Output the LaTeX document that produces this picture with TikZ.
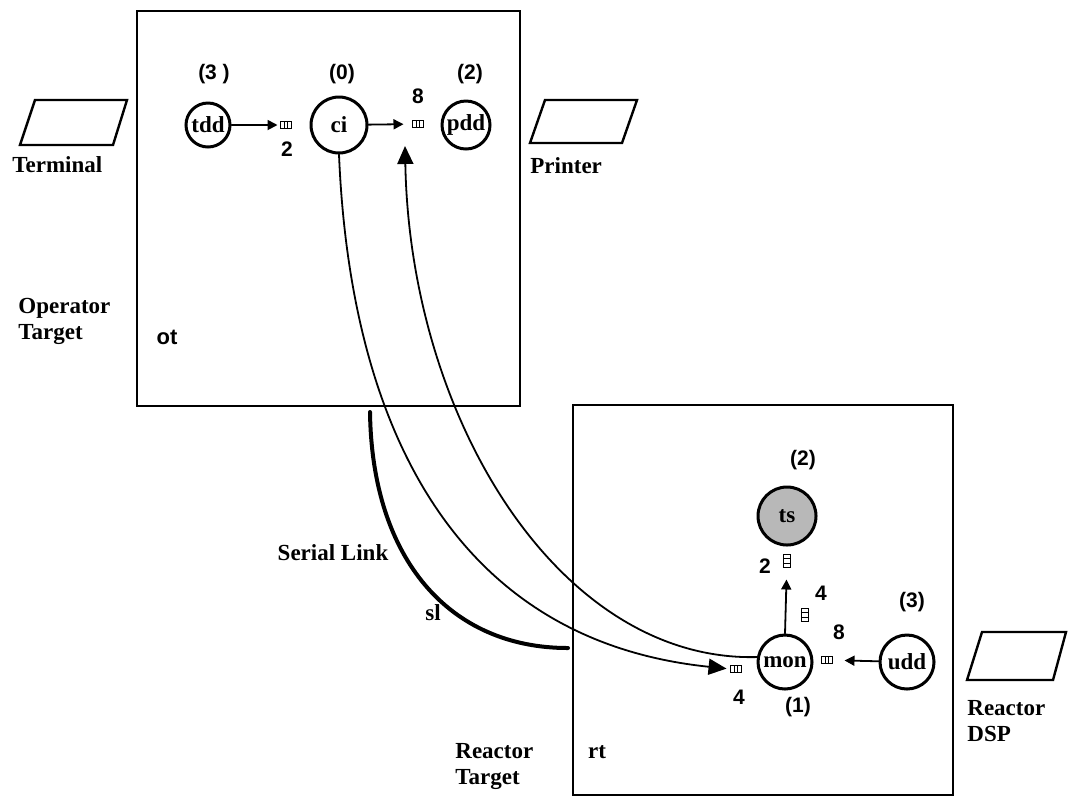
\documentclass[tikz,border=0pt]{standalone}
\usepackage{fontspec}
\setmainfont{Liberation Serif}
\setsansfont{Liberation Sans}
\usetikzlibrary{arrows.meta}

\begin{document}
\begin{tikzpicture}[x=0.5pt,y=-0.5pt]
\tikzset{
  procnode/.style={circle,draw=black,line width=1.5pt,inner sep=0pt,font=\bfseries\fontsize{11.5}{13}\selectfont},
  shadednode/.style={procnode,fill=black!28},
  hostbox/.style={draw=black,line width=1.2pt},
  devshape/.style={draw=black,line width=1.2pt,line join=miter},
  textlabel/.style={inner sep=0pt,align=left,font=\bfseries\fontsize{11.5}{13}\selectfont},
  numlabel/.style={inner sep=0pt,font=\sffamily\bfseries\fontsize{10.5}{12}\selectfont},
  msgedge/.style={draw=black,line width=0.9pt,line cap=round},
  shortarrow/.style={msgedge,-{Triangle[length=5pt,width=5pt]}},
  longarrow/.style={msgedge,-{Triangle[length=9pt,width=8pt]}},
  linkline/.style={draw=black,line width=2pt,line cap=round},
  queueh/.style={draw=black,line width=0.8pt,minimum width=5.5pt,minimum height=3.5pt,inner sep=0pt,outer sep=0pt,
    path picture={\draw[line width=0.6pt] ([xshift=1.83pt]path picture bounding box.south west) -- ([xshift=1.83pt]path picture bounding box.north west)
      ([xshift=3.67pt]path picture bounding box.south west) -- ([xshift=3.67pt]path picture bounding box.north west);}},
  queuev/.style={draw=black,line width=0.8pt,minimum width=3.5pt,minimum height=6.5pt,inner sep=0pt,outer sep=0pt,
    path picture={\draw[line width=0.6pt] ([yshift=2.17pt]path picture bounding box.south west) -- ([yshift=2.17pt]path picture bounding box.south east)
      ([yshift=4.33pt]path picture bounding box.south west) -- ([yshift=4.33pt]path picture bounding box.south east);}}
}
\useasboundingbox (0,0) rectangle (1068,805);
\draw[hostbox] (137,11) rectangle (520,406);
\draw[hostbox] (573,405) rectangle (953,795);
\draw[devshape] (35,100) -- (127,100) -- (113,145) -- (20,145) -- cycle;
\draw[devshape] (545,100) -- (637,100) -- (622,143) -- (530,143) -- cycle;
\draw[devshape] (982,632) -- (1066,632) -- (1053,680) -- (967,680) -- cycle;
\node[textlabel,anchor=west] (l_term) at (12,165) {Terminal};
\node[textlabel,anchor=west] (l_print) at (530,166) {Printer};
\node[textlabel,anchor=west] (l_ot) at (18,321) {Operator\\Target};
\node[textlabel,anchor=west] (l_rt) at (455,766) {Reactor\\Target};
\node[textlabel,anchor=west] (l_dsp) at (967,721) {Reactor\\DSP};
\node[textlabel] (l_serial) at (333,553) {Serial Link};
\node[textlabel] (l_sl) at (433,613) {sl};
\node[numlabel,font=\sffamily\bfseries\fontsize{11}{13}\selectfont] (n_ot) at (167,337) {ot};
\node[textlabel] (n_rt) at (597,752) {rt};
\node[procnode,minimum size=22pt] (n_tdd) at (208,125) {tdd};
\node[procnode,minimum size=28pt] (n_ci) at (339,125) {ci};
\node[procnode,minimum size=24pt] (n_pdd) at (466,125) {pdd};
\node[shadednode,minimum size=29pt] (n_ts) at (787,516) {ts};
\node[procnode,minimum size=27pt] (n_mon) at (785,662) {mon};
\node[procnode,minimum size=27pt] (n_udd) at (907,662) {udd};
\node[numlabel] (p_tdd) at (214,74) {(3 )};
\node[numlabel] (p_ci) at (342,74) {(0)};
\node[numlabel] (p_pdd) at (470,74) {(2)};
\node[numlabel] (p_ts) at (803,460) {(2)};
\node[numlabel] (p_udd) at (912,602) {(3)};
\node[numlabel] (p_mon) at (798,707) {(1)};
\node[queueh] (q_tdd) at (286,125) {};
\node[queueh] (q_pdd) at (418,124) {};
\node[queuev] (q_ts) at (787,561) {};
\node[queuev] (q_monup) at (805,615) {};
\node[queueh] (q_monr) at (827,660) {};
\node[queueh] (q_monl) at (736,669) {};
\node[numlabel] (k_tdd) at (287,149) {2};
\node[numlabel] (k_pdd) at (418,96) {8};
\node[numlabel] (k_ts) at (765,566) {2};
\node[numlabel] (k_monup) at (821,593) {4};
\node[numlabel] (k_monr) at (839,632) {8};
\node[numlabel] (k_monl) at (739,697) {4};
\coordinate (c_pddin) at (405,146);
\coordinate (c_sla) at (370,412);
\coordinate (c_slb) at (568,648);
\draw[shortarrow,shorten >=1.5pt] (n_tdd) -- (q_tdd);
\draw[shortarrow,shorten >=4.5pt] (n_ci) -- (q_pdd);
\draw[shortarrow,shorten >=6pt] (n_mon.north) -- (q_ts);
\draw[shortarrow,shorten >=6pt] (n_udd) -- (q_monr);
\draw[longarrow,shorten >=2pt] (n_ci.south) .. controls (350,420) and (450,640) .. (q_monl.west);
\draw[longarrow] (n_mon.170) .. controls (560,662) and (410,420) .. (c_pddin);
\draw[linkline] (c_sla) .. controls (372,560) and (450,648) .. (c_slb);
\end{tikzpicture}
\end{document}
